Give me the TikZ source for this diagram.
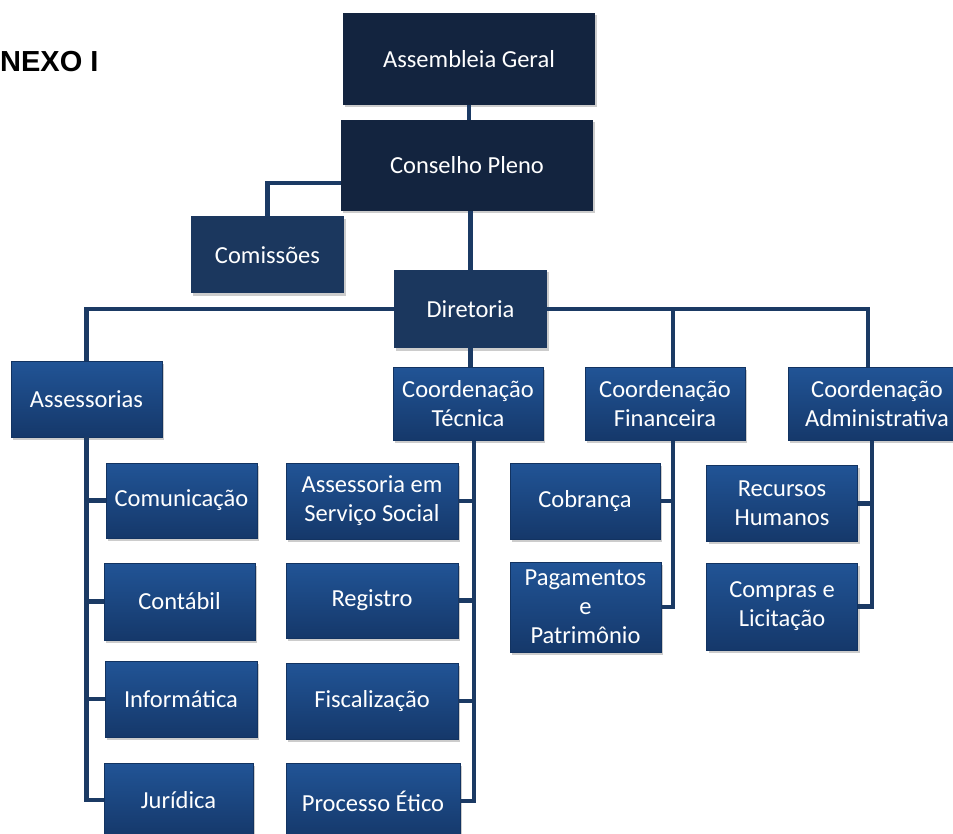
\documentclass[tikz,border=0pt]{standalone}
\usepackage{fontspec}
\newfontfamily\carlito{Carlito}
\newfontfamily\arialf{Liberation Sans}
\usetikzlibrary{shadows,calc}
\definecolor{navytop}{HTML}{13243F}
\definecolor{navymid}{HTML}{1B375E}
\definecolor{bluetop}{HTML}{215496}
\definecolor{bluebot}{HTML}{15386A}
\definecolor{blueedge}{HTML}{123361}
\definecolor{linkc}{HTML}{1B3A64}
\tikzset{
  basebox/.style={inner sep=0pt, align=center, text=white,
    font=\carlito\fontsize{24.5}{29}\selectfont,
    drop shadow={shadow xshift=2pt, shadow yshift=-2.5pt, fill=black!40, opacity=0.5}},
  topbox/.style={basebox, fill=navytop},
  midbox/.style={basebox, fill=navymid},
  lowbox/.style={basebox, top color=bluetop, bottom color=bluebot, draw=blueedge, line width=0.8pt},
  link/.style={draw=linkc, line width=4.5pt, line join=miter}
}
\begin{document}
\begin{tikzpicture}[x=1pt,y=-1pt]
\useasboundingbox (0,0) rectangle (953,834);
\node[anchor=base west, font=\arialf\bfseries\fontsize{29}{34}\selectfont, inner sep=0pt] (title) at (0,72) {NEXO I};
% top
\node[topbox, minimum width=252pt, minimum height=92pt] (ag) at (469,59) {Assembleia Geral};
\node[topbox, minimum width=252pt, minimum height=91pt] (cp) at (467,165.5) {Conselho Pleno};
\node[midbox, minimum width=153pt, minimum height=77pt] (com) at (267.5,255) {Comissões};
\node[midbox, minimum width=153pt, minimum height=78pt] (dir) at (470.5,309) {Diretoria};
% level 2
\node[lowbox, minimum width=151pt, minimum height=76pt] (ass) at (86.5,399) {Assessorias};
\node[lowbox, minimum width=150pt, minimum height=73pt] (ct) at (468,404) {Coordenação\\Técnica};
\node[lowbox, minimum width=160pt, minimum height=73pt] (cf) at (665,404) {Coordenação\\Financeira};
\node[lowbox, minimum width=178pt, minimum height=73pt] (ca) at (877,404) {Coordenação\\Administrativa};
% assessorias children
\node[lowbox, minimum width=151pt, minimum height=75pt] (comu) at (181.5,500.5) {Comunicação};
\node[lowbox, minimum width=151pt, minimum height=77pt] (cont) at (179.5,601.5) {Contábil};
\node[lowbox, minimum width=152pt, minimum height=76pt] (info) at (181,699) {Informática};
\node[lowbox, minimum width=149pt, minimum height=74pt] (jur) at (178.5,800) {Jurídica};
% tecnica children
\node[lowbox, minimum width=172pt, minimum height=76pt] (ss) at (372,501) {Assessoria em\\Serviço Social};
\node[lowbox, minimum width=172pt, minimum height=75pt] (reg) at (372,600.5) {Registro};
\node[lowbox, minimum width=172pt, minimum height=76pt] (fis) at (372,701) {Fiscalização};
\node[lowbox, minimum width=174pt, minimum height=76pt] (pe) at (373,801) {Processo Ético};
% financeira children
\node[lowbox, minimum width=150pt, minimum height=76pt] (cob) at (585,501) {Cobrança};
\node[lowbox, minimum width=151pt, minimum height=90pt] (pag) at (585.5,607) {Pagamentos\\e\\Patrimônio};
% administrativa children
\node[lowbox, minimum width=151pt, minimum height=76pt] (rh) at (782,503.5) {Recursos\\Humanos};
\node[lowbox, minimum width=151pt, minimum height=87pt] (cl) at (782,606.5) {Compras e\\Licitação};
% connectors
\coordinate (k1) at (266,183);
\draw[link] (ag.south) -- (ag.south |- cp.north);
\draw[link] (cp.west |- k1) -| (com.north);
\draw[link] (dir.north |- cp.south) -- (dir.north);
\draw[link] (dir.west) -| (ass.north);
\draw[link] (dir.east) -| ($(ca.north)+(-9,0)$);
\draw[link] (dir.east) -| ($(cf.north)+(8,0)$);
\draw[link] (dir.south) -- (dir.south |- ct.north);
\coordinate (ab) at (ass.south);
\draw[link] (ab) |- (comu.west);
\draw[link] (ab) |- (cont.west);
\draw[link] (ab) |- (info.west);
\draw[link] (ab) |- (jur.west);
\coordinate (tb) at ($(ct.south)+(6,0)$);
\draw[link] (tb) |- (ss.east);
\draw[link] (tb) |- (reg.east);
\draw[link] (tb) |- (fis.east);
\draw[link] (tb) |- (pe.east);
\coordinate (fb) at ($(cf.south)+(8,0)$);
\draw[link] (fb) |- (cob.east);
\draw[link] (fb) |- (pag.east);
\coordinate (db) at ($(ca.south)+(-5,0)$);
\draw[link] (db) |- (rh.east);
\draw[link] (db) |- (cl.east);
\end{tikzpicture}
\end{document}
